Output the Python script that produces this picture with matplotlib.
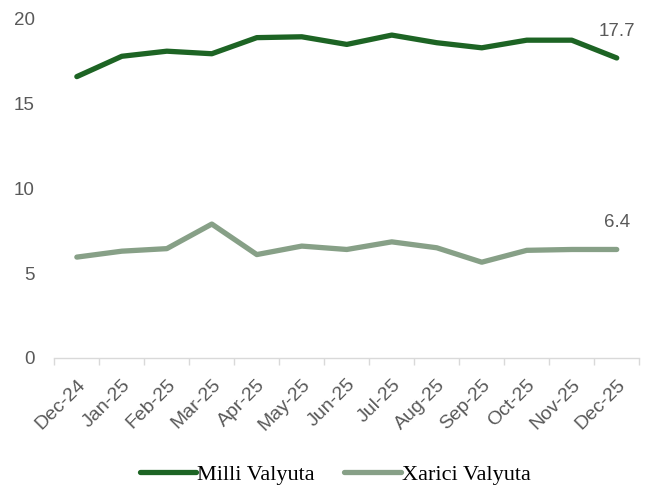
import numpy as np
import matplotlib.pyplot as plt

months = ["Dec-24", "Jan-25", "Feb-25", "Mar-25", "Apr-25", "May-25", "Jun-25",
          "Jul-25", "Aug-25", "Sep-25", "Oct-25", "Nov-25", "Dec-25"]
milli = [16.6, 17.8, 18.1, 17.95, 18.9, 18.95, 18.5, 19.05, 18.6, 18.3, 18.75, 18.75, 17.7]
xarici = [5.95, 6.3, 6.45, 7.9, 6.1, 6.6, 6.4, 6.85, 6.5, 5.65, 6.35, 6.4, 6.4]

green_dark = "#1d6424"
green_light = "#87a087"
gray = "#595959"

fig = plt.figure(figsize=(6.47, 4.87), dpi=100)
ax = fig.add_axes([0.084, 0.265, 0.904, 0.696])

x = np.arange(len(months))
ax.plot(x, milli, color=green_dark, lw=3.8, label="Milli Valyuta", solid_capstyle="round")
ax.plot(x, xarici, color=green_light, lw=3.8, label="Xarici Valyuta", solid_capstyle="round")

# end labels
ax.annotate("%.1f" % milli[-1], (x[-1], milli[-1]), xytext=(0, 13), textcoords="offset points",
            ha="center", va="bottom", fontsize=13.5, color=gray, family="Liberation Sans")
ax.annotate("%.1f" % xarici[-1], (x[-1], xarici[-1]), xytext=(0, 13), textcoords="offset points",
            ha="center", va="bottom", fontsize=13.5, color=gray, family="Liberation Sans")

ax.set_xlim(-0.5, len(months) - 0.5)
ax.set_ylim(0, 20)
ax.set_yticks([0, 5, 10, 15, 20])
ax.set_xticks(x)
ax.set_xticklabels(months, rotation=45, ha="right", rotation_mode="anchor")
ax.set_xticks(np.arange(-0.5, len(months)), minor=True)
ax.tick_params(axis="x", which="major", length=0, pad=13)
ax.tick_params(axis="x", which="minor", length=5, color="#d9d9d9", width=1)
ax.tick_params(axis="y", length=0, pad=14)
for lab in ax.get_xticklabels():
    lab.set_fontsize(14)
    lab.set_color(gray)
    lab.set_family("Liberation Sans")
for lab in ax.get_yticklabels():
    lab.set_fontsize(13.5)
    lab.set_color(gray)
    lab.set_family("Liberation Sans")

for s in ["top", "right", "left"]:
    ax.spines[s].set_visible(False)
ax.spines["bottom"].set_color("#d9d9d9")
ax.spines["bottom"].set_linewidth(1)

leg = fig.legend(loc="center", bbox_to_anchor=(0.518, 0.026), ncol=2, frameon=False,
                 prop={"family": "Liberation Serif", "size": 16}, handlelength=2.55,
                 columnspacing=1.3, handletextpad=0.05)

plt.savefig("out.png", dpi=100)
